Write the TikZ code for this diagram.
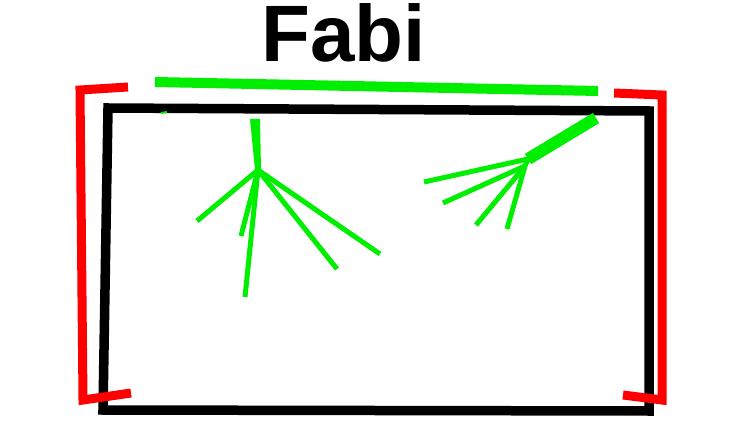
\documentclass[tikz,border=0pt]{standalone}
\usepackage{fontspec}
\setmainfont{Liberation Sans}
\definecolor{fgreen}{RGB}{0,238,0}
\definecolor{fred}{RGB}{255,0,0}
\begin{document}
\begin{tikzpicture}[x=1pt,y=-1pt,
  frame/.style={line width=9.5pt,black,line join=miter},
  bracket/.style={line width=9pt,fred},
  branch/.style={line width=5pt,fgreen},
  trunk/.style={line width=10pt,fgreen}]
\useasboundingbox (0,0) rectangle (735,443);
\node[anchor=base,inner sep=0pt,font=\bfseries\fontsize{80}{80}\selectfont] (title) at (343.5,62) {Fabi};
% green top bar
\coordinate (g1) at (155,82);
\coordinate (g2) at (598,91);
\draw[line width=10pt,fgreen] (g1) -- (g2);
% black frame
\coordinate (tl) at (108,108);
\coordinate (tr) at (649,111);
\coordinate (br) at (649,411);
\coordinate (bl) at (103,410);
\draw[frame] (tl) -- (tr) -- (br) -- (bl) -- cycle;
% red brackets
\coordinate (r1a) at (128,87);
\coordinate (r1b) at (80,90);
\coordinate (r1c) at (83,400);
\coordinate (r1d) at (131,393);
\draw[bracket] (r1a) -- (r1b) -- (r1c) -- (r1d);
\coordinate (r2a) at (614,93);
\coordinate (r2b) at (662,95);
\coordinate (r2c) at (662,400);
\coordinate (r2d) at (623,395);
\draw[bracket] (r2a) -- (r2b) -- (r2c) -- (r2d);
% tiny fleck
\coordinate (f1) at (161,113);
\coordinate (f2) at (167,112);
\draw[line width=2pt,fgreen] (f1) -- (f2);
% left tree
\coordinate (lt) at (255,119);
\coordinate (lj) at (258,170);
\fill[fgreen] (250,119) -- (260,119) -- (261,170) -- (255,170) -- cycle;
\coordinate (la) at (197,221);
\coordinate (lb) at (241,236);
\coordinate (lc) at (245,297);
\coordinate (ld) at (337,269);
\coordinate (le) at (380,254);
\foreach \p in {la,lb,lc,ld,le} \draw[branch] (lj) -- (\p);
% right tree
\coordinate (rt) at (596,118);
\coordinate (rj) at (528,159);
\draw[line width=12pt,fgreen] (rt) -- (rj);
\coordinate (rj2) at (525,166);
\coordinate (ra) at (424,182);
\coordinate (rb) at (443,203);
\coordinate (rc) at (476,225);
\coordinate (rd) at (507,229);
\draw[branch] (rj) -- (ra);
\foreach \p in {rb,rc,rd} \draw[branch] (rj2) -- (\p);
\draw[branch] (rj) -- (rj2);
\end{tikzpicture}
\end{document}
